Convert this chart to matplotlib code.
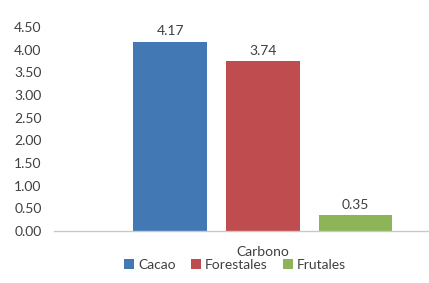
import matplotlib.pyplot as plt

categories = ['Cacao', 'Forestales', 'Frutales']
values = [4.17, 3.74, 0.35]
colors = ['#4279B5', '#BF4C4F', '#8DB558']
group_label = 'Carbono'
yticks = [0, 0.5, 1, 1.5, 2, 2.5, 3, 3.5, 4, 4.5]

plt.rcParams['font.family'] = ['Lato', 'DejaVu Sans']

fig = plt.figure(figsize=(4.29, 2.83), dpi=100)
ax = fig.add_axes([0.126, 0.184, 0.872, 0.721])

positions = [-1, 0, 1]
for pos, val, col, name in zip(positions, values, colors, categories):
    ax.bar(pos, val, width=0.79, color=col, label=name)
    ax.text(pos, val + 0.1, f'{val:.2f}', ha='center', va='bottom',
            fontsize=10, color='#404040')

ax.set_xlim(-2.25, 1.78)
ax.set_ylim(0, 4.5)
ax.set_yticks(yticks)
ax.set_yticklabels([f'{t:.2f}' for t in yticks])
ax.set_xticks([0])
ax.set_xticklabels([group_label])
ax.tick_params(axis='y', length=0, labelsize=10, labelcolor='#404040', pad=9)
ax.tick_params(axis='x', length=0, labelsize=10, labelcolor='#404040', pad=11)

for side in ['top', 'right', 'left']:
    ax.spines[side].set_visible(False)
ax.spines['bottom'].set_color('#C8C8C8')
ax.spines['bottom'].set_linewidth(1.0)

fig.legend(loc='center', bbox_to_anchor=(0.548, 0.063), ncol=3, frameon=False,
           fontsize=10, handlelength=0.7, handleheight=0.7, handletextpad=0.3,
           columnspacing=1.1, labelcolor='#404040')

fig.savefig('out.png', dpi=100)
